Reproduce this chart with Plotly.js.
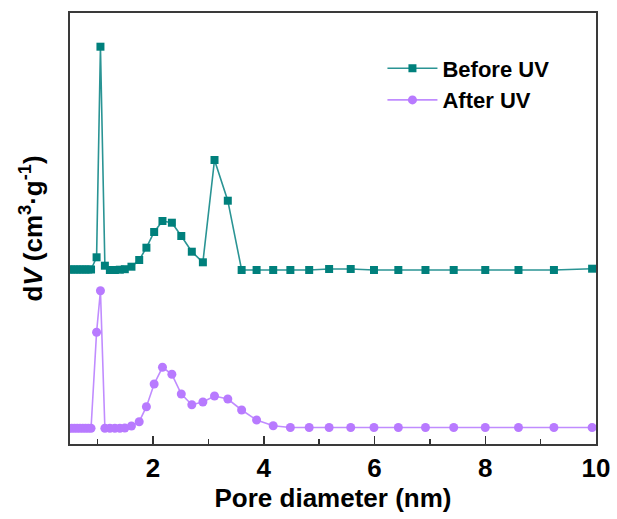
<!DOCTYPE html>
<html>
<head>
<meta charset="utf-8">
<script src="https://cdn.plot.ly/plotly-3.0.1.min.js"></script>
<style>html,body{margin:0;padding:0;background:#fff;}#chart{width:617px;height:519px;}</style>
</head>
<body>
<div id="chart"></div>
<script>
// Pore diameter (nm) shared by both series
const poreDiameter = [0.48, 0.53, 0.58, 0.63, 0.68, 0.73, 0.78, 0.83, 0.88, 0.98, 1.05, 1.13, 1.22, 1.31, 1.40, 1.49, 1.61, 1.75, 1.88, 2.02, 2.17, 2.34, 2.51, 2.70, 2.90, 3.11, 3.35, 3.60, 3.87, 4.17, 4.48, 4.82, 5.18, 5.57, 5.99, 6.43, 6.92, 7.43, 8.00, 8.60, 9.24, 9.93];
// dV, arbitrary offset units (stacked curves)
const beforeUV = [174.5, 174.5, 174.5, 174.5, 174.5, 174.5, 174.5, 174.5, 174.5, 186.7, 397.3, 178.3, 174, 174, 174.3, 174.8, 177.3, 184, 196.3, 212, 223, 221.3, 208, 192.3, 181.7, 284, 243.3, 174, 174, 174, 174, 174, 175, 175, 174, 174, 174, 174, 174, 174, 174, 175.3];
const afterUV = [15.7, 15.7, 15.7, 15.7, 15.7, 15.7, 15.7, 15.7, 15.7, 111.7, 153.3, 15.7, 15.7, 15.7, 15.7, 16, 18, 22.3, 37.3, 60, 76.7, 69.7, 50, 39.3, 42, 48, 45, 34, 24, 18.3, 16.5, 16.5, 16.5, 16.5, 16.5, 16.5, 16.5, 16.5, 16.5, 16.5, 16.5, 16.5];
const seriesNames = ['Before UV', 'After UV'];
const xTickVals = [2, 4, 6, 8, 10];

const FONT = 'Arial, "Liberation Sans", sans-serif';

const traces = [
  {
    x: poreDiameter, y: beforeUV, name: seriesNames[0], type: 'scatter', mode: 'lines+markers',
    line: {color: '#2a9494', width: 1.6},
    marker: {symbol: 'square', size: 8, color: '#00807c'}
  },
  {
    x: poreDiameter, y: afterUV, name: seriesNames[1], type: 'scatter', mode: 'lines+markers',
    line: {color: '#c08cff', width: 1.6},
    marker: {symbol: 'circle', size: 9, color: '#b87aff'}
  }
];

const layout = {
  width: 617, height: 519,
  margin: {l: 70, r: 21, t: 13, b: 75},
  paper_bgcolor: '#fff', plot_bgcolor: '#fff',
  font: {family: FONT, color: '#000'},
  showlegend: true,
  legend: {
    x: 0.594, y: 0.92, xanchor: 'left', yanchor: 'top',
    bgcolor: 'rgba(0,0,0,0)', borderwidth: 0,
    font: {family: FONT, size: 22, color: '#000', weight: 'bold'},
    itemwidth: 50, tracegroupgap: 0
  },
  xaxis: {
    range: [0.5, 10], tickvals: xTickVals, ticktext: xTickVals.map(String),
    ticks: 'inside', ticklen: 8, tickwidth: 1.5, tickcolor: '#333',
    minor: {tickvals: [1, 3, 5, 7, 9], ticks: 'inside', ticklen: 5, tickwidth: 1.5, tickcolor: '#333'},
    showline: true, linecolor: '#3a3a3a', linewidth: 2, mirror: true,
    showgrid: false, zeroline: false,
    tickfont: {family: FONT, size: 26, color: '#000', weight: 'bold'},
    title: {text: 'Pore diameter (nm)', font: {family: FONT, size: 26, color: '#000', weight: 'bold'}, standoff: 4}
  },
  yaxis: {
    range: [0, 431], showticklabels: false, ticks: '',
    showline: true, linecolor: '#3a3a3a', linewidth: 2, mirror: true,
    showgrid: false, zeroline: false,
    title: {text: 'd<i>V</i> (cm<sup>3</sup>·g<sup>-1</sup>)', font: {family: FONT, size: 26, color: '#000', weight: 'bold'}, standoff: 18}
  }
};

Plotly.newPlot('chart', traces, layout, {displayModeBar: false, staticPlot: true});
</script>
</body>
</html>
